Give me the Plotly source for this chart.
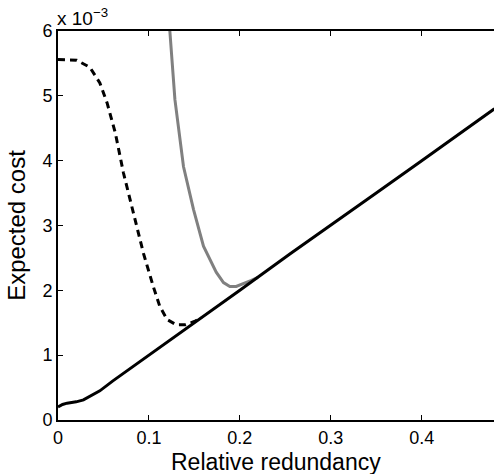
import plotly.graph_objects as go

# Data (values in units of 1e-3)
solid_x = [0.0, 0.005, 0.01, 0.02, 0.028, 0.035, 0.046, 0.06, 0.083, 0.1, 0.119, 0.156, 0.2, 0.255, 0.3, 0.35, 0.4, 0.45, 0.48]
solid_y = [0.2, 0.24, 0.26, 0.28, 0.31, 0.36, 0.45, 0.6, 0.83, 1.0, 1.18, 1.56, 2.0, 2.56, 3.0, 3.5, 4.0, 4.5, 4.8]

gray_x = [0.123, 0.1286, 0.138, 0.149, 0.160, 0.174, 0.182, 0.189, 0.196, 0.204, 0.212, 0.22]
gray_y = [6.0, 4.94, 3.91, 3.25, 2.68, 2.28, 2.12, 2.06, 2.06, 2.1, 2.15, 2.2]

dash_x = [0.0, 0.01, 0.0205, 0.035, 0.046, 0.054, 0.063, 0.072, 0.083, 0.094, 0.105, 0.112, 0.12, 0.13, 0.14, 0.15, 0.158]
dash_y = [5.56, 5.56, 5.55, 5.44, 5.2, 4.89, 4.43, 3.81, 3.19, 2.57, 2.05, 1.75, 1.55, 1.47, 1.47, 1.52, 1.58]

x_ticks = [0, 0.1, 0.2, 0.3, 0.4]
x_labels = ["0", "0.1", "0.2", "0.3", "0.4"]
y_ticks = [0, 1, 2, 3, 4, 5, 6]
y_labels = ["0", "1", "2", "3", "4", "5", "6"]

fig = go.Figure()
fig.add_trace(go.Scatter(x=gray_x, y=gray_y, mode="lines",
                         line=dict(color="#808080", width=3), showlegend=False))
fig.add_trace(go.Scatter(x=dash_x, y=dash_y, mode="lines",
                         line=dict(color="black", width=3, dash="7px,5px"), showlegend=False))
fig.add_trace(go.Scatter(x=solid_x, y=solid_y, mode="lines",
                         line=dict(color="black", width=3), showlegend=False))

font = "Liberation Sans, Arial, Helvetica, sans-serif"
fig.update_layout(
    width=494, height=474,
    margin=dict(l=58, r=0, t=31, b=54),
    plot_bgcolor="white", paper_bgcolor="white",
    font=dict(family=font, color="black", size=18),
    xaxis=dict(range=[0, 0.4795], tickvals=x_ticks, ticktext=x_labels,
               showgrid=False, zeroline=False, showline=True, linecolor="black", linewidth=2,
               ticks="inside", ticklen=5, tickcolor="black", tickwidth=1, mirror="ticks",
               tickfont=dict(size=18)),
    yaxis=dict(range=[0, 6], tickvals=y_ticks, ticktext=y_labels,
               showgrid=False, zeroline=False, showline=True, linecolor="black", linewidth=2,
               ticks="inside", ticklen=5, tickcolor="black", tickwidth=1,
               title=dict(text="Expected cost", font=dict(size=24), standoff=10),
               tickfont=dict(size=18)),
    annotations=[
        dict(x=0, y=1, xref="paper", yref="paper", xanchor="left", yanchor="bottom",
             text="x 10<sup>−3</sup>", showarrow=False, font=dict(size=19), xshift=-3, yshift=0),
        dict(x=0.5, y=0, xref="paper", yref="paper", xanchor="center", yanchor="top",
             text="Relative redundancy", showarrow=False, font=dict(size=23), yshift=-27),
    ],
)
fig.write_html("out.html")
